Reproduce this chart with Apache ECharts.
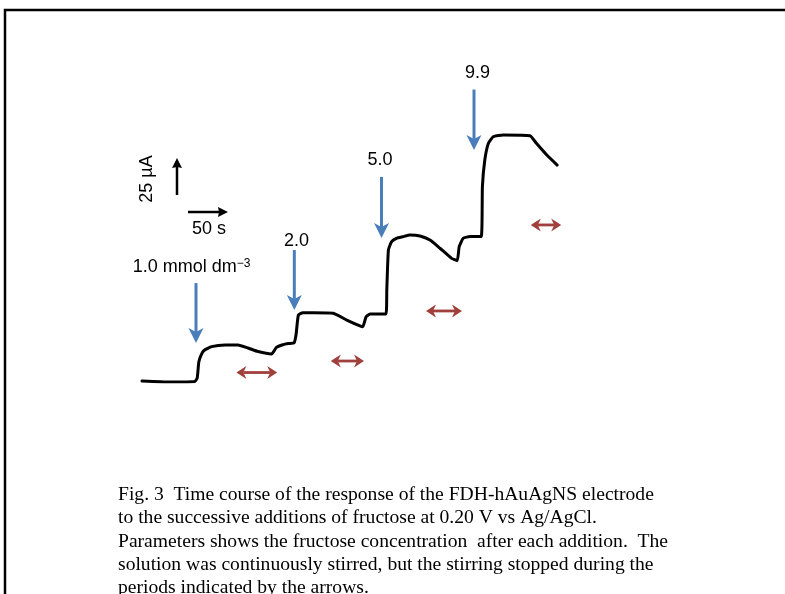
<!DOCTYPE html>
<html>
<head>
<meta charset="utf-8">
<script src="https://cdn.jsdelivr.net/npm/echarts@6/dist/echarts.min.js"></script>
<style>
html,body{margin:0;padding:0;background:#fff;}
#chart{width:785px;height:594px;}
</style>
</head>
<body>
<div id="chart"></div>
<script>
// ---- Data (time in s, current in µA above baseline) ----
const timeS = [0, 35, 66, 69, 71, 74, 77.5, 87, 104, 120, 132.5, 145, 162, 168, 175, 182.5, 190, 192.5, 195.5, 201, 214, 239, 256, 272.5, 276, 280, 285, 305, 306, 308, 312, 318, 326, 335, 347.5, 360, 372.5, 387, 394, 396.5, 401.5, 410, 424, 425.5, 428.5, 433, 439, 451.5, 485, 493, 506, 519];
const currentUA = [0.8, 0, 0.4, 3.1, 15.6, 21.1, 24.6, 27.6, 28.9, 28.9, 26.6, 23.8, 21.9, 27.0, 28.9, 30.1, 30.5, 36.7, 52.3, 54.1, 54.1, 53.7, 48.4, 43.8, 43.2, 50.8, 53.1, 53.1, 71.9, 103.1, 109.6, 112.3, 113.5, 114.8, 114.1, 110.9, 104.5, 96.6, 94.8, 105.7, 112.3, 113.7, 113.7, 152.6, 173.4, 186.5, 191.6, 193.0, 192.4, 186.5, 177.3, 169.5];

// fructose additions (blue arrows)
const concentrations = ['1.0', '2.0', '5.0', '9.9'];
const concUnit = ' mmol dm';
const additionTimes = [67.5, 190.4, 299.4, 415];
const arrowTailI = [77.3, 103.1, 160.2, 228.5];
const arrowTipI = [30.5, 56.3, 112.5, 181.3];
const labelT = [62, 193, 297.5, 419.4];
const labelI = [89.8, 110.2, 173.4, 241.4];

// stirring stopped periods (red double arrows)
const stirStartT = [118, 236, 355, 486];
const stirEndT = [169, 277.5, 400, 524];
const stirArrowI = [7.4, 16.4, 55.5, 122.7];

// scale bars
const scaleTimeLabel = '50 s';
const scaleCurrentLabel = '25 µA';
const scaleH = [57.5, 132.8, 107.5, 132.8];   // t1, I1, t2, I2
const scaleV = [43.75, 146.1, 43.75, 175];
const scaleHLabel = [83.75, 119.5];
const scaleVLabel = [6.25, 158.6];

const captionLines = [
  'Fig. 3  Time course of the response of the FDH-hAuAgNS electrode',
  'to the successive additions of fructose at 0.20 V vs Ag/AgCl.',
  'Parameters shows the fructose concentration  after each addition.  The',
  'solution was continuously stirred, but the stirring stopped during the',
  'periods indicated by the arrows.'
];

// ---- Rendering helpers ----
function head(tip, d, L, W, n) {
  const px = -d[1], py = d[0];
  return [
    [tip[0], tip[1]],
    [tip[0] - d[0] * L + px * W, tip[1] - d[1] * L + py * W],
    [tip[0] - d[0] * (L - n), tip[1] - d[1] * (L - n)],
    [tip[0] - d[0] * L - px * W, tip[1] - d[1] * L - py * W]
  ];
}
function arrowRenderer(color, lw, L, W, n, doubleHead) {
  return function (params, api) {
    const a = api.coord([api.value(0), api.value(1)]);
    const b = api.coord([api.value(2), api.value(3)]);
    const dx = b[0] - a[0], dy = b[1] - a[1];
    const len = Math.sqrt(dx * dx + dy * dy);
    const d = [dx / len, dy / len];
    const back = [-d[0], -d[1]];
    const s2 = [b[0] - d[0] * (L - n), b[1] - d[1] * (L - n)];
    const s1 = doubleHead ? [a[0] + d[0] * (L - n), a[1] + d[1] * (L - n)] : a;
    const children = [
      { type: 'line', shape: { x1: s1[0], y1: s1[1], x2: s2[0], y2: s2[1] }, style: { stroke: color, lineWidth: lw } },
      { type: 'polygon', shape: { points: head(b, d, L, W, n) }, style: { fill: color } }
    ];
    if (doubleHead) {
      children.push({ type: 'polygon', shape: { points: head(a, back, L, W, n) }, style: { fill: color } });
    }
    return { type: 'group', children: children };
  };
}

const blueData = additionTimes.map((t, i) => [t, arrowTailI[i], t, arrowTipI[i]]);
const redData = stirStartT.map((t, i) => [t, stirArrowI[i], stirEndT[i], stirArrowI[i]]);
const scaleData = [scaleH, scaleV];
const labelData = concentrations.map((c, i) => [labelT[i], labelI[i], i]);

const sansFont = '"Liberation Sans", Arial, sans-serif';
const serifFont = '"Liberation Serif", "Times New Roman", serif';

const chart = echarts.init(document.getElementById('chart'), null, { renderer: 'canvas' });
chart.setOption({
  animation: false,
  backgroundColor: '#fff',
  grid: { left: 142, top: 62, width: 420, height: 320 },
  xAxis: { type: 'value', min: 0, max: 525, show: false },
  yAxis: { type: 'value', min: 0, max: 250, show: false },
  graphic: [
    { type: 'polyline', shape: { points: [[5, 594], [5, 10], [785, 10]] }, style: { stroke: '#000', lineWidth: 2.5, fill: null } }
  ].concat(captionLines.map((line, i) => ({
    type: 'text', x: 118, y: 495 + i * 23.3,
    style: { text: line, font: '19.6px ' + serifFont, fill: '#000', verticalAlign: 'middle' }
  }))),
  series: [
    {
      type: 'line',
      data: timeS.map((t, i) => [t, currentUA[i]]),
      showSymbol: false,
      symbol: 'none',
      lineStyle: { color: '#000', width: 3, join: 'round', cap: 'round' },
      smooth: 0.15,
      silent: true
    },
    {
      type: 'custom', clip: false, silent: true,
      encode: { x: [0, 2], y: [1, 3] },
      renderItem: arrowRenderer('#4a7ebb', 3, 15, 7.5, 4, false),
      data: blueData
    },
    {
      type: 'custom', clip: false, silent: true,
      encode: { x: [0, 2], y: [1, 3] },
      renderItem: arrowRenderer('#a0403c', 2.8, 10, 6.5, 3, true),
      data: redData
    },
    {
      type: 'custom', clip: false, silent: true,
      encode: { x: [0, 2], y: [1, 3] },
      renderItem: arrowRenderer('#000', 2.5, 10, 5, 1, false),
      data: scaleData
    },
    {
      type: 'custom', clip: false, silent: true,
      encode: { x: 0, y: 1 },
      renderItem: function (params, api) {
        const p = api.coord([api.value(0), api.value(1)]);
        const i = api.value(2);
        const txt = i === 0 ? concentrations[i] + concUnit + '{s|−3}' : concentrations[i];
        return {
          type: 'text', x: p[0], y: p[1],
          style: {
            text: txt, fontSize: 18, fontFamily: sansFont, fill: '#000',
            align: 'center', verticalAlign: 'middle',
            rich: { s: { fontSize: 12, fontFamily: sansFont, verticalAlign: 'top', fill: '#000' } }
          }
        };
      },
      data: labelData
    },
    {
      type: 'custom', clip: false, silent: true,
      encode: { x: 0, y: 1 },
      renderItem: function (params, api) {
        const p = api.coord([api.value(0), api.value(1)]);
        const rot = api.value(2);
        return {
          type: 'text', x: p[0], y: p[1], rotation: rot ? Math.PI / 2 : 0,
          style: {
            text: rot ? scaleCurrentLabel : scaleTimeLabel, fontSize: 18, fontFamily: sansFont, fill: '#000',
            align: 'center', verticalAlign: 'middle'
          }
        };
      },
      data: [[scaleHLabel[0], scaleHLabel[1], 0], [scaleVLabel[0], scaleVLabel[1], 1]]
    }
  ]
});
</script>
</body>
</html>
